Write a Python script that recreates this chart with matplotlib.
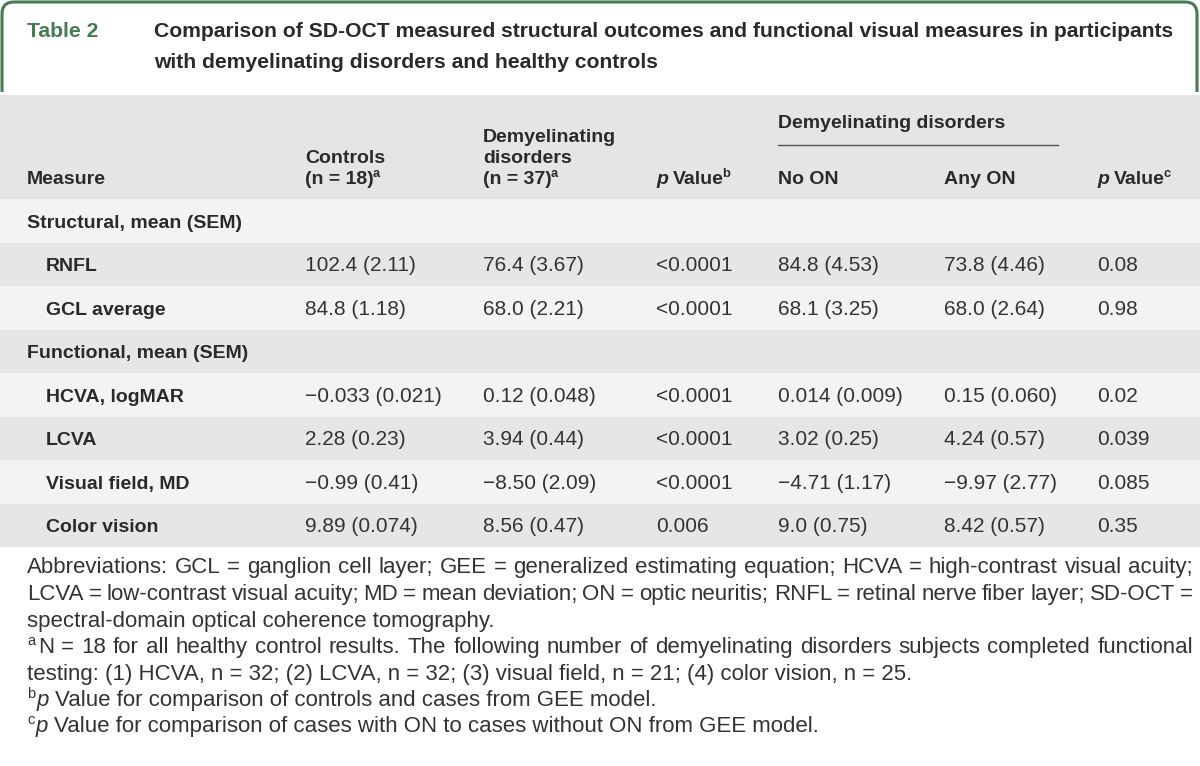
import matplotlib
matplotlib.use('Agg')
import matplotlib.pyplot as plt
from matplotlib.path import Path
from matplotlib.patches import PathPatch, Rectangle

plt.rcParams['font.family'] = ['Liberation Sans', 'DejaVu Sans']

# ---- data ----
table_label = 'Table 2'
title_lines = ['Comparison of SD-OCT measured structural outcomes and functional visual measures in participants',
               'with demyelinating disorders and healthy controls']

groups = ['Structural, mean (SEM)', 'Functional, mean (SEM)']
group_measures = [['RNFL', 'GCL average'],
                  ['HCVA, logMAR', 'LCVA', 'Visual field, MD', 'Color vision']]

controls = ['102.4 (2.11)', '84.8 (1.18)', '−0.033 (0.021)', '2.28 (0.23)', '−0.99 (0.41)', '9.89 (0.074)']
demyel = ['76.4 (3.67)', '68.0 (2.21)', '0.12 (0.048)', '3.94 (0.44)', '−8.50 (2.09)', '8.56 (0.47)']
p_cases = ['<0.0001', '<0.0001', '<0.0001', '<0.0001', '<0.0001', '0.006']
no_on = ['84.8 (4.53)', '68.1 (3.25)', '0.014 (0.009)', '3.02 (0.25)', '−4.71 (1.17)', '9.0 (0.75)']
any_on = ['73.8 (4.46)', '68.0 (2.64)', '0.15 (0.060)', '4.24 (0.57)', '−9.97 (2.77)', '8.42 (0.57)']
p_on = ['0.08', '0.98', '0.02', '0.039', '0.085', '0.35']

abbr_lines = ['Abbreviations: GCL = ganglion cell layer; GEE = generalized estimating equation; HCVA = high-contrast visual acuity;',
              'LCVA = low-contrast visual acuity; MD = mean deviation; ON = optic neuritis; RNFL = retinal nerve fiber layer; SD-OCT =',
              'spectral-domain optical coherence tomography.']
note_a_lines = ['N = 18 for all healthy control results. The following number of demyelinating disorders subjects completed functional',
                'testing: (1) HCVA, n = 32; (2) LCVA, n = 32; (3) visual field, n = 21; (4) color vision, n = 25.']
note_b = 'Value for comparison of controls and cases from GEE model.'
note_c = 'Value for comparison of cases with ON to cases without ON from GEE model.'

# ---- figure in pixel coords ----
fig = plt.figure(figsize=(12, 7.66), dpi=100)
ax = fig.add_axes([0, 0, 1, 1])
ax.set_xlim(0, 1200)
ax.set_ylim(766, 0)
ax.axis('off')
r = fig.canvas.get_renderer()

GREEN = '#467a52'
TXT = '#2a2a2a'
HEAD_BG = '#e5e5e5'
LIGHT = '#f3f3f3'
DARK = '#e6e6e6'
FT = 15.2      # title size (pt)
FH = 14.0      # bold header / labels
FB = 15.0      # body values
FN = 16.0      # footnote size


def put(x, y, s, size=FB, weight='normal', style='normal', color=TXT):
    return ax.text(x, y, s, fontsize=size, fontweight=weight, fontstyle=style,
                   color=color, ha='left', va='baseline')


def wid(t):
    return t.get_window_extent(renderer=r).width


def space_w(size, weight='normal'):
    a = put(-500, -500, 'a a', size, weight)
    b = put(-500, -500, 'aa', size, weight)
    w = wid(a) - wid(b)
    a.remove(); b.remove()
    return w


def runs(x, y, parts, size=FB, weight='normal', color=TXT):
    # parts: list of (text, kind) kind in n / i / sup / sp
    for s, kind in parts:
        if kind == 'sp':
            x += space_w(size, weight)
            continue
        if kind == 'sup':
            t = put(x - 1.5, y - size * 100 / 72 * 0.38, s, size * 0.66, weight, color=color)
            x += wid(t)
            continue
        t = put(x, y, s, size, weight, 'italic' if kind == 'i' else 'normal', color=color)
        x += wid(t)
    return x


def justify(x0, x1, y, line, size=FN, color='#333333'):
    words = line.split(' ')
    ts = [put(x0, y, w, size, color=color) for w in words]
    ws = [wid(t) for t in ts]
    gap = (x1 - x0 - sum(ws)) / (len(words) - 1)
    x = x0
    for t, w in zip(ts, ws):
        t.set_x(x)
        x += w + gap


# green frame (open at bottom)
L, R, T, B, rad = 2, 1197, 2, 92, 12
verts = [(L, B), (L, T + rad), (L, T), (L + rad, T), (R - rad, T), (R, T), (R, T + rad), (R, B)]
codes = [Path.MOVETO, Path.LINETO, Path.CURVE3, Path.CURVE3, Path.LINETO, Path.CURVE3, Path.CURVE3, Path.LINETO]
ax.add_patch(PathPatch(Path(verts, codes), fill=False, edgecolor=GREEN, lw=2.2))

put(27, 37, table_label, FT, 'bold', color=GREEN)
put(154, 37, title_lines[0], FT, 'bold')
put(154, 68, title_lines[1], FT, 'bold')

# header band
ax.add_patch(Rectangle((0, 95), 1200, 104, facecolor=HEAD_BG, edgecolor='none'))
cols = [305, 483, 656, 778, 944, 1097]
hb = 184
put(27, hb, 'Measure', FH, 'bold')
put(cols[0], hb - 21, 'Controls', FH, 'bold')
runs(cols[0], hb, [('(n = 18)', 'n'), ('a', 'sup')], FH, 'bold')
put(cols[1], hb - 42, 'Demyelinating', FH, 'bold')
put(cols[1], hb - 21, 'disorders', FH, 'bold')
runs(cols[1], hb, [('(n = 37)', 'n'), ('a', 'sup')], FH, 'bold')
runs(cols[2], hb, [('p', 'i'), ('', 'sp'), ('Value', 'n'), ('b', 'sup')], FH, 'bold')
put(cols[3], hb - 56, 'Demyelinating disorders', FH, 'bold')
ax.plot([cols[3], 1058], [145, 145], color='#555555', lw=1)
put(cols[3], hb, 'No ON', FH, 'bold')
put(cols[4], hb, 'Any ON', FH, 'bold')
runs(cols[5], hb, [('p', 'i'), ('', 'sp'), ('Value', 'n'), ('c', 'sup')], FH, 'bold')

# body rows
row_h = 43.5
y = 199.0
k = 0
i = 0
for g, ms in zip(groups, group_measures):
    ax.add_patch(Rectangle((0, y), 1200, row_h, facecolor=LIGHT if k % 2 == 0 else DARK, edgecolor='none'))
    put(27, y + row_h / 2 + 7, g, FH, 'bold')
    y += row_h
    k += 1
    for m in ms:
        ax.add_patch(Rectangle((0, y), 1200, row_h, facecolor=LIGHT if k % 2 == 0 else DARK, edgecolor='none'))
        yb = y + row_h / 2 + 7
        put(46, yb, m, FH, 'bold')
        for cx, vals in zip(cols, [controls, demyel, p_cases, no_on, any_on, p_on]):
            put(cx, yb, vals[i], FB, color='#333333')
        y += row_h
        k += 1
        i += 1

# footnotes
fy = [573, 600, 627, 653, 680, 706, 732]
RE = 1193
FC = '#333333'
justify(27, RE, fy[0], abbr_lines[0])
justify(27, RE, fy[1], abbr_lines[1])
put(27, fy[2], abbr_lines[2], FN, color=FC)
x = runs(28.5, fy[3], [('a', 'sup')], FN, color=FC)
justify(x + 1, RE, fy[3], note_a_lines[0])
put(27, fy[4], note_a_lines[1], FN, color=FC)
runs(28.5, fy[5], [('b', 'sup'), ('p', 'i'), ('', 'sp'), (note_b, 'n')], FN, color=FC)
runs(28.5, fy[6], [('c', 'sup'), ('p', 'i'), ('', 'sp'), (note_c, 'n')], FN, color=FC)

fig.savefig('out.png', dpi=100)
